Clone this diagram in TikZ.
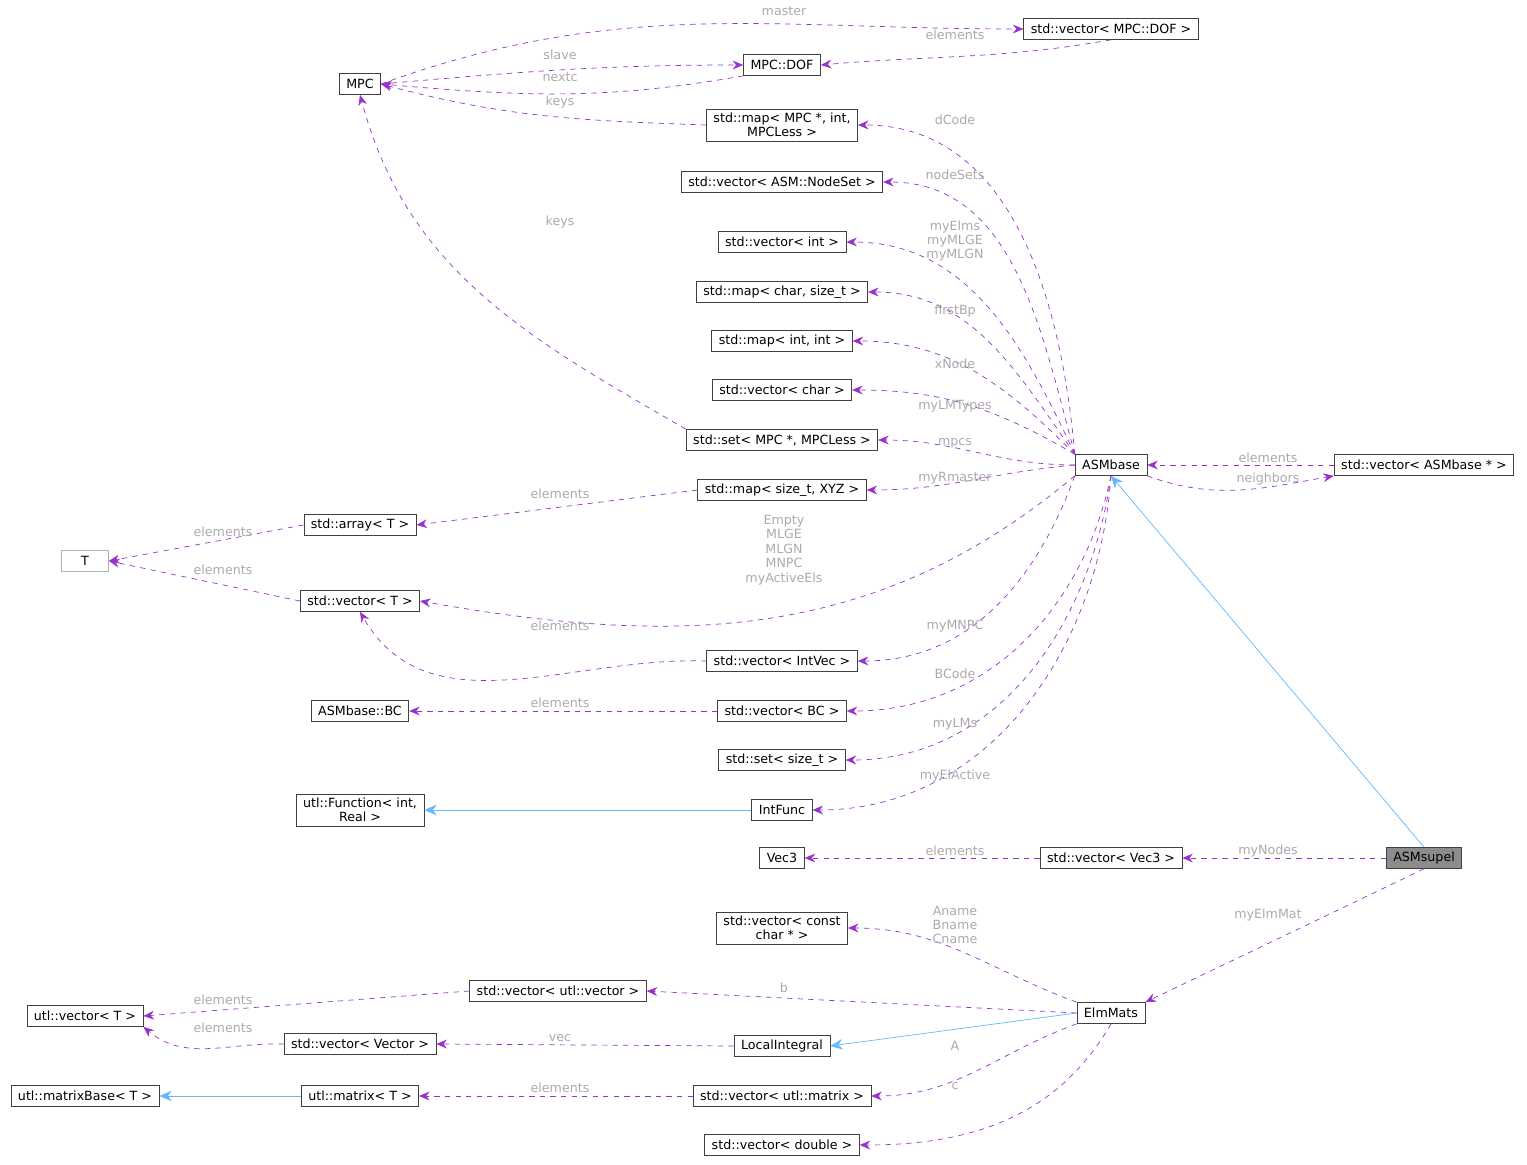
\documentclass[tikz,border=0pt]{standalone}
\usepackage{fontspec}
\setmainfont{DejaVu Sans}
\usetikzlibrary{arrows.meta}
\definecolor{dep}{RGB}{153,50,204}
\definecolor{inh}{RGB}{99,184,255}
\definecolor{lblgray}{RGB}{170,170,170}
\tikzset{
  cls/.style={draw=black!75, fill=white, inner xsep=4pt, inner ysep=2.2pt, minimum height=0.42cm, align=center, font=\fontsize{7.2}{8.2}\selectfont},
  use/.style={dep, dashed, thin, -{Stealth[length=6pt,width=5pt]}},
  isa/.style={inh, thin, -{Stealth[length=7pt,width=6pt,fill=inh]}},
  lbl/.style={lblgray, inner sep=0pt, align=center, font=\fontsize{7.2}{8.2}\selectfont}
}
\begin{document}
\begin{tikzpicture}[x=0.02cm, y=-0.02cm]
\useasboundingbox (0,0) rectangle (1527,1165);
% classes
\node[cls] (mpc) at (360,84) {MPC};
\node[cls] (dof) at (782,65) {MPC::DOF};
\node[cls] (vdof) at (1111,29) {std::vector< MPC::DOF >};
\node[cls] (mapmpc) at (782,125) {std::map< MPC *, int,\\MPCLess >};
\node[cls] (vns) at (782,182) {std::vector< ASM::NodeSet >};
\node[cls] (vint) at (782,242) {std::vector< int >};
\node[cls] (mcs) at (782,292) {std::map< char, size\_t >};
\node[cls] (mii) at (782,341) {std::map< int, int >};
\node[cls] (vchar) at (782,390) {std::vector< char >};
\node[cls] (smpc) at (782,440) {std::set< MPC *, MPCLess >};
\node[cls] (mxyz) at (782,490) {std::map< size\_t, XYZ >};
\node[cls] (arr) at (360,525) {std::array< T >};
\node[cls, draw=black!30] (t) at (85,561) {\quad T\quad};
\node[cls] (vt) at (360,601) {std::vector< T >};
\node[cls] (vivec) at (782,661) {std::vector< IntVec >};
\node[cls] (bc) at (360,711) {ASMbase::BC};
\node[cls] (vbc) at (782,711) {std::vector< BC >};
\node[cls] (ssize) at (782,760) {std::set< size\_t >};
\node[cls] (func) at (360,810) {utl::Function< int,\\Real >};
\node[cls] (ifunc) at (782,810) {IntFunc};
\node[cls] (vec3) at (782,858) {Vec3};
\node[cls] (vvec3) at (1111,858) {std::vector< Vec3 >};
\node[cls, fill=black!45] (supel) at (1424,858) {ASMsupel};
\node[cls] (asm) at (1111,465) {ASMbase};
\node[cls] (vasm) at (1424,465) {std::vector< ASMbase * >};
\node[cls] (vcc) at (782,928) {std::vector< const\\char * >};
\node[cls] (elm) at (1111,1013) {ElmMats};
\node[cls] (vuv) at (558,991) {std::vector< utl::vector >};
\node[cls] (uvt) at (85,1016) {utl::vector< T >};
\node[cls] (vvector) at (360,1044) {std::vector< Vector >};
\node[cls] (li) at (782,1046) {LocalIntegral};
\node[cls] (umb) at (85,1096) {utl::matrixBase< T >};
\node[cls] (umt) at (360,1096) {utl::matrix< T >};
\node[cls] (vum) at (782,1096) {std::vector< utl::matrix >};
\node[cls] (vdbl) at (782,1145) {std::vector< double >};
% MPC cluster
\draw[use] (mpc.east) to[out=20, in=180] (vdof.west);
\draw[use] (mpc.east) to[out=5, in=180] (dof.west);
\draw[use] (dof.south west) to[out=190, in=-5] (mpc.east);
\draw[use] (mapmpc.west) to[out=178, in=-15] (mpc.east);
\draw[use] (vdof.south) to[out=190, in=5] (dof.east);
\draw[use] (smpc.north west) to[out=150, in=-75] (mpc.south);
\node[lbl] at (784,11) {master};
\node[lbl] at (560,55) {slave};
\node[lbl] at (560,77) {nextc};
\node[lbl] at (560,102) {keys};
\node[lbl] at (955,35) {elements};
\node[lbl] at (560,222) {keys};
% ASMbase fan
\draw[use] (asm.north west) to[out=95, in=0] (mapmpc.east);
\draw[use] (asm.north west) to[out=105, in=0] (vns.east);
\draw[use] (asm.north west) to[out=115, in=0] (vint.east);
\draw[use] (asm.north west) to[out=125, in=0] (mcs.east);
\draw[use] (asm.north west) to[out=135, in=0] (mii.east);
\draw[use] (asm.north west) to[out=150, in=0] (vchar.east);
\draw[use] (asm.west) to[out=180, in=0] (smpc.east);
\draw[use] (asm.west) to[out=185, in=0] (mxyz.east);
\draw[use] (asm.south west) to[out=220, in=-10] (vt.east);
\draw[use] (asm.south west) to[out=250, in=0] (vivec.east);
\draw[use] (asm.south) to[out=258, in=0] (vbc.east);
\draw[use] (asm.south) to[out=262, in=0] (ssize.east);
\draw[use] (asm.south) to[out=266, in=0] (ifunc.east);
\node[lbl] at (955,120) {dCode};
\node[lbl] at (955,175) {nodeSets};
\node[lbl] at (955,241) {myElms\\myMLGE\\myMLGN};
\node[lbl] at (955,311) {firstBp};
\node[lbl] at (955,364) {xNode};
\node[lbl] at (955,406) {myLMTypes};
\node[lbl] at (955,443) {mpcs};
\node[lbl] at (955,478) {myRmaster};
\node[lbl] at (784,550) {Empty\\MLGE\\MLGN\\MNPC\\myActiveEls};
\node[lbl] at (955,626) {myMNPC};
\node[lbl] at (955,674) {BCode};
\node[lbl] at (955,724) {myLMs};
\node[lbl] at (955,776) {myElActive};
% template containers
\draw[use] (mxyz.west) -- (arr.east);
\draw[use] (arr.west) -- (t.east);
\draw[use] (vt.west) -- (t.east);
\draw[use] (vivec.west) to[out=178, in=-60] (vt.south);
\draw[use] (vbc.west) -- (bc.east);
\draw[isa] (ifunc.west) -- (func.east);
\node[lbl] at (560,494) {elements};
\node[lbl] at (223,532) {elements};
\node[lbl] at (223,570) {elements};
\node[lbl] at (560,626) {elements};
\node[lbl] at (560,703) {elements};
% ASMbase neighbours
\draw[use] (vasm.west) -- (asm.east);
\draw[use] (asm.south east) to[out=-20, in=190] (vasm.south west);
\node[lbl] at (1268,458) {elements};
\node[lbl] at (1268,479) {neighbors};
% ASMsupel
\draw[isa] (supel.north) -- (asm.south);
\draw[use] (supel.west) -- (vvec3.east);
\draw[use] (vvec3.west) -- (vec3.east);
\draw[use] (supel.south) -- (elm.north east);
\node[lbl] at (1268,851) {myNodes};
\node[lbl] at (955,851) {elements};
\node[lbl] at (1268,915) {myElmMat};
% ElmMats
\draw[use] (elm.north west) to[out=160, in=0] (vcc.east);
\draw[use] (elm.west) -- (vuv.east);
\draw[isa] (elm.west) -- (li.east);
\draw[use] (elm.south west) to[out=200, in=0] (vum.east);
\draw[use] (elm.south) to[out=240, in=0] (vdbl.east);
\draw[use] (vuv.west) -- (uvt.east);
\draw[use] (vvector.west) to[out=178, in=-40] (uvt.south east);
\draw[use] (li.west) -- (vvector.east);
\draw[use] (vum.west) -- (umt.east);
\draw[isa] (umt.west) -- (umb.east);
\node[lbl] at (955,925) {Aname\\Bname\\Cname};
\node[lbl] at (784,988) {b};
\node[lbl] at (955,1046) {A};
\node[lbl] at (955,1086) {c};
\node[lbl] at (223,1000) {elements};
\node[lbl] at (223,1028) {elements};
\node[lbl] at (560,1038) {vec};
\node[lbl] at (560,1088) {elements};
\end{tikzpicture}
\end{document}
